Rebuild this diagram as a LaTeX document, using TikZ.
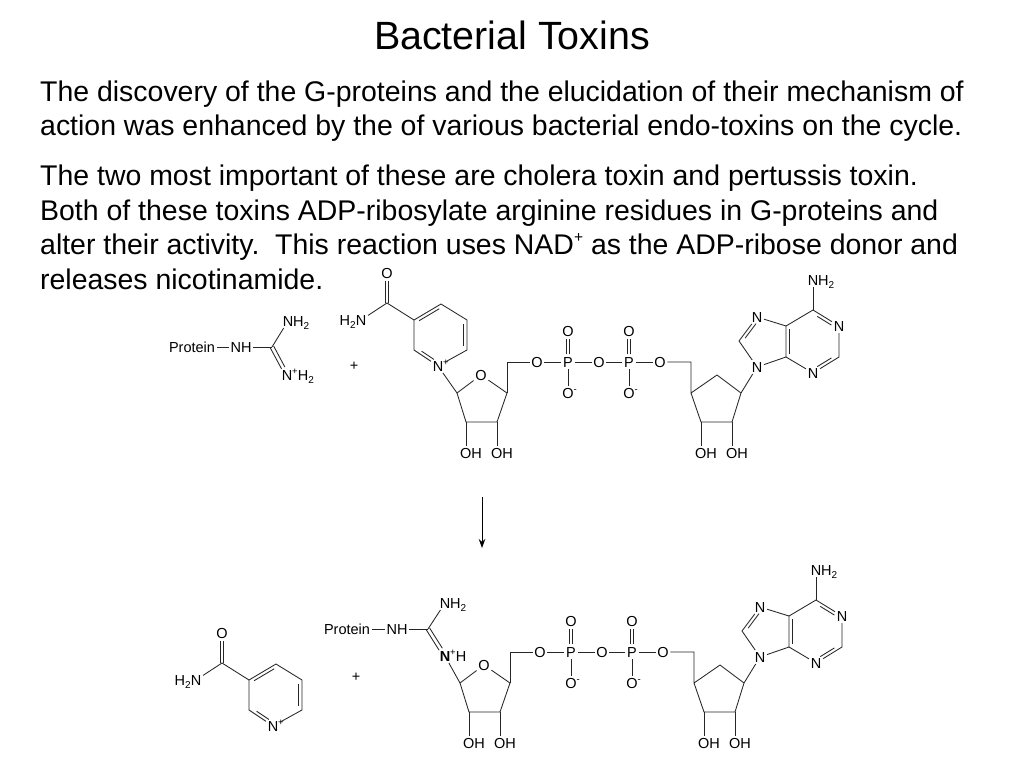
\documentclass[tikz,border=0pt]{standalone}
\usepackage{fontspec}
\setmainfont{Liberation Sans}
\usetikzlibrary{calc,arrows.meta}
\newcommand\subtwo{\smash{\raisebox{-.22em}{\fontsize{10}{10}\selectfont 2}}}
\newcommand\supplus{\smash{\raisebox{.42em}{\fontsize{9.5}{9.5}\selectfont +}}}
\newcommand\supminus{\smash{\raisebox{.42em}{\fontsize{9.5}{9.5}\selectfont -}}}
% inner line of a ring double bond, a->b clockwise on the page
\newcommand\inbond[3][4pt]{\draw[bond,shorten <=#1,shorten >=#1] ($(#2)!3.2pt!-90:(#3)$) -- ($(#3)!3.2pt!90:(#2)$);}
% double bond drawn as two lines
\newcommand\dblbond[4]{\draw[bond,shorten <=#3,shorten >=#4] ($(#1)!1.9pt!-90:(#2)$) -- ($(#2)!1.9pt!90:(#1)$);
  \draw[bond,shorten <=#3,shorten >=#4] ($(#1)!1.9pt!90:(#2)$) -- ($(#2)!1.9pt!-90:(#1)$);}
\tikzset{
  atom/.style={inner sep=1.6pt,text height=10.4pt,text depth=0pt,font=\fontsize{14.5}{14.5}\selectfont,text=black},
  bond/.style={draw=black!85,line width=0.85pt},
  slide/.style={anchor=base west,inner sep=0pt,font=\fontsize{28.45}{28.45}\selectfont,text=black},
  headline/.style={inner sep=0pt,font=\fontsize{39.4}{39.4}\selectfont,text=black},
  reactarrow/.style={draw=black,line width=0.9pt,-{Stealth[length=9pt,width=6.5pt]}}
}
% nicotinamide (upper-figure coordinates)
\newcommand\nicamide{
  \node[atom] (oa) at (387,273) {O};
  \coordinate (ca) at (387,303);
  \node[atom] (na) at (361,320) {\llap{H\subtwo}N};
  \coordinate (c3) at (414,320);
  \coordinate (c4) at (441,304);
  \coordinate (c5) at (467,320);
  \coordinate (c6) at (467,350);
  \node[atom] (n1) at (438,366) {N\rlap{\supplus}};
  \coordinate (c2) at (414,350);
  \dblbond{ca}{oa}{0pt}{8pt}
  \draw[bond] (ca) -- (na);
  \draw[bond] (ca) -- (c3) -- (c4) -- (c5) -- (c6) -- (n1) -- (c2) -- (c3);
  \inbond{c3}{c4}
  \inbond{c5}{c6}
  \inbond[7pt]{n1}{c2}
}
% ribose, phosphates and adenine (upper-figure coordinates)
\newcommand\nadtail{
  \coordinate (r1) at (457,393);
  \node[atom] (ro) at (481,375) {O};
  \coordinate (r4) at (507,393);
  \coordinate (r3) at (497,422);
  \coordinate (r2) at (466,422);
  \node[atom] (oh1) at (471,453) {OH};
  \node[atom] (oh2) at (502,453) {OH};
  \coordinate (r5) at (507,362);
  \node[atom] (o1) at (537,362) {O};
  \node[atom] (p1) at (568,362) {P};
  \node[atom] (o2) at (599,362) {O};
  \node[atom] (p2) at (629,362) {P};
  \node[atom] (o3) at (660,362) {O};
  \node[atom] (p1a) at (568,331) {O};
  \node[atom] (p1b) at (568,393) {O\rlap{\supminus}};
  \node[atom] (p2a) at (629,331) {O};
  \node[atom] (p2b) at (629,393) {O\rlap{\supminus}};
  \coordinate (s5) at (691,362);
  \coordinate (s4) at (691,393);
  \coordinate (s0) at (717,375);
  \coordinate (s1) at (741,393);
  \coordinate (s2) at (732,422);
  \coordinate (s3) at (701,422);
  \node[atom] (oh3) at (706,453) {OH};
  \node[atom] (oh4) at (737,453) {OH};
  \node[atom] (n9) at (757,367) {N};
  \coordinate (c8) at (739,341);
  \node[atom] (n7) at (757,317) {N};
  \coordinate (c5a) at (786,326);
  \coordinate (c4a) at (786,357);
  \coordinate (c6a) at (813,310);
  \node[atom] (n1a) at (839,326) {N};
  \coordinate (c2a) at (839,357);
  \node[atom] (n3a) at (813,373) {N};
  \node[atom] (nh2a) at (813,280) {N\rlap{H\subtwo}};
  \draw[bond] (r1) -- (ro) -- (r4) -- (r3) -- (r2) -- (r1);
  \draw[bond] (r2) -- (r2 |- oh1.north);
  \draw[bond] (r3) -- (r3 |- oh2.north);
  \draw[bond] (r4) -- (r5) -- (o1);
  \draw[bond] (o1) -- (p1);
  \draw[bond] (p1) -- (o2);
  \draw[bond] (o2) -- (p2);
  \draw[bond] (p2) -- (o3);
  \draw[bond] (o3) -- (s5) -- (s4) -- (s0) -- (s1) -- (s2) -- (s3) -- (s4);
  \draw[bond] (p1) -- (p1b);
  \draw[bond] (p2) -- (p2b);
  \dblbond{p1}{p1a}{8pt}{8pt}
  \dblbond{p2}{p2a}{8pt}{8pt}
  \draw[bond] (s3) -- (s3 |- oh3.north);
  \draw[bond] (s2) -- (s2 |- oh4.north);
  \draw[bond] (s1) -- (n9);
  \draw[bond] (n9) -- (c8) -- (n7) -- (c5a) -- (c4a) -- (n9);
  \draw[bond] (c5a) -- (c6a) -- (n1a) -- (c2a) -- (n3a) -- (c4a);
  \draw[bond] (c6a) -- (nh2a);
  \inbond[6pt]{c8}{n7}
  \inbond[3pt]{c4a}{c5a}
  \inbond[7pt]{c6a}{n1a}
  \inbond[7pt]{c2a}{n3a}
}
\begin{document}
\begin{tikzpicture}[x=1pt,y=-1pt]
\useasboundingbox[fill=white] (0,0) rectangle (1024,768);
\node[headline] (title) at (512,35) {Bacterial Toxins};
\node[slide] (l1) at (40,101) {The discovery of the G-proteins and the elucidation of their mechanism of};
\node[slide] (l2) at (40,135) {action was enhanced by the of various bacterial endo-toxins on the cycle.};
\node[slide] (l3) at (40,185) {The two most important of these are cholera toxin and pertussis toxin.};
\node[slide] (l4) at (40,220) {Both of these toxins ADP-ribosylate arginine residues in G-proteins and};
\node[slide] (l5) at (40,254) {alter their activity.\ \ This reaction uses NAD\raisebox{.4em}{\fontsize{15.5}{15.5}\selectfont +} as the ADP-ribose donor and};
\node[slide] (l6) at (40,289) {releases nicotinamide.};
% upper reactants
\node[atom] (prot) at (192,347) {Protein};
\node[atom] (nhu) at (241,347) {NH};
\coordinate (cu) at (272,347);
\node[atom] (nh2u) at (288,321) {N\rlap{H\subtwo}};
\node[atom] (npu) at (287,375) {N\rlap{\supplus H\subtwo}};
\draw[bond] (prot) -- (nhu);
\draw[bond] (nhu) -- (cu);
\draw[bond] (cu) -- (nh2u);
\dblbond{cu}{npu}{0pt}{8pt}
\node[atom,text height=8pt] (plusu) at (354,366) {+};
\begin{scope}[name prefix=u-]
\nicamide
\nadtail
\draw[bond] (n1) -- (r1);
\end{scope}
% reaction arrow
\coordinate (arrowa) at (482,497);
\coordinate (arrowb) at (482,548);
\draw[reactarrow] (arrowa) -- (arrowb);
% lower products
\begin{scope}[name prefix=w-,shift={(-165,360)}]
\nicamide
\end{scope}
\node[atom,text height=8pt] (plusl) at (356,677) {+};
\node[atom] (protl) at (347,629) {Protein};
\node[atom] (nhl) at (397,629) {NH};
\coordinate (cl) at (428,629);
\node[atom] (nh2l) at (445,603) {N\rlap{H\subtwo}};
\node[atom,font=\fontsize{14.5}{14.5}\selectfont\bfseries] (npl) at (445,656) {N\rlap{\mdseries\supplus H}};
\draw[bond] (protl) -- (nhl);
\draw[bond] (nhl) -- (cl);
\draw[bond] (cl) -- (nh2l);
\dblbond{cl}{npl}{0pt}{8pt}
\begin{scope}[name prefix=b-,shift={(3,290)}]
\nadtail
\end{scope}
\draw[bond] (npl) -- (b-r1);
\end{tikzpicture}
\end{document}
